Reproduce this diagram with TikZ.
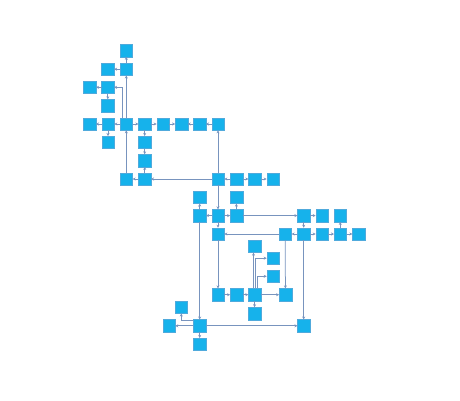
\documentclass[tikz,border=0pt]{standalone}
\usetikzlibrary{arrows.meta}
\definecolor{nodefill}{RGB}{22,178,235}
\definecolor{nodeline}{RGB}{80,170,220}
\definecolor{edgecol}{RGB}{120,148,190}
\tikzset{
  box/.style={draw=nodeline, fill=nodefill, line width=0.4pt, minimum size=12.6pt, inner sep=0pt, outer sep=0pt},
  edge/.style={draw=edgecol, line width=0.75pt, -{Stealth[length=3pt,width=3pt]}}
}
\begin{document}
\begin{tikzpicture}[x=1pt,y=-1pt]
\path[use as bounding box] (0,0) rectangle (460,400);
% nodes
\node[box] (A1) at (126.3,50.5) {};
\node[box] (A2) at (126.3,69.2) {};
\node[box] (A3) at (107.8,69.2) {};
\node[box] (A4) at (107.8,87.3) {};
\node[box] (A5) at (89.7,87.3) {};
\node[box] (A6) at (107.8,105.6) {};
\node[box] (B1) at (89.7,124) {};
\node[box] (B2) at (108,124) {};
\node[box] (B3) at (126.3,124) {};
\node[box] (B4) at (144.7,124) {};
\node[box] (B5) at (163,124) {};
\node[box] (B6) at (181.4,124) {};
\node[box] (B7) at (199.7,124) {};
\node[box] (B8) at (218,124) {};
\node[box] (C1) at (108,142.3) {};
\node[box] (C2) at (144.7,142.3) {};
\node[box] (C3) at (144.7,160.6) {};
\node[box] (D1) at (126.3,179) {};
\node[box] (D2) at (144.7,179) {};
\node[box] (D3) at (218,179) {};
\node[box] (D4) at (236.4,179) {};
\node[box] (D5) at (254.7,179) {};
\node[box] (D6) at (273,179) {};
\node[box] (E1) at (199.7,197.3) {};
\node[box] (E2) at (236.4,197.3) {};
\node[box] (F1) at (199.7,215.6) {};
\node[box] (F2) at (218,215.6) {};
\node[box] (F3) at (236.4,215.6) {};
\node[box] (F4) at (303.7,215.6) {};
\node[box] (F5) at (322,215.6) {};
\node[box] (F6) at (340.3,215.6) {};
\node[box] (G1) at (218,234) {};
\node[box] (G2) at (285.3,234) {};
\node[box] (G3) at (303.7,234) {};
\node[box] (G4) at (322,234) {};
\node[box] (G5) at (340.3,234) {};
\node[box] (G6) at (358.7,234) {};
\node[box] (H) at (254.6,246.3) {};
\node[box] (I) at (273,258.2) {};
\node[box] (J) at (273,276.3) {};
\node[box] (K1) at (218,294.7) {};
\node[box] (K2) at (236.4,294.7) {};
\node[box] (K3) at (254.6,294.7) {};
\node[box] (K4) at (285.4,294.7) {};
\node[box] (L) at (254.6,313.5) {};
\node[box] (M) at (181.3,307.2) {};
\node[box] (N1) at (169,325.8) {};
\node[box] (N2) at (199.7,325.8) {};
\node[box] (N3) at (303.7,325.8) {};
\node[box] (O) at (199.7,344.2) {};
% edges
\draw[edge] (A2) -- (A1);
\draw[edge] (A2) -- (A3);
\draw[edge] (A4) -- (A5);
\draw[edge] (A4) -- (A6);
\draw[edge] (B3) -- (A2);
\draw[edge] ([xshift=-4.4pt]B3.north) |- (A4.east);
\draw[edge] (B2) -- (B1);
\draw[edge] (B2) -- (C1);
\draw[edge] (B3) -- (B2);
\draw[edge] (B3) -- (B4);
\draw[edge] (B4) -- (B5);
\draw[edge] (B4) -- (C2);
\draw[edge] (B5) -- (B6);
\draw[edge] (B7) -- (B6);
\draw[edge] (B8) -- (B7);
\draw[edge] (D3) -- (B8);
\draw[edge] (C2) -- (C3);
\draw[edge] (D2) -- (C3);
\draw[edge] (D2) -- (D1);
\draw[edge] (D1) -- (B3);
\draw[edge] (D3) -- (D2);
\draw[edge] (D4) -- (D3);
\draw[edge] (D4) -- (D5);
\draw[edge] (D5) -- (D6);
\draw[edge] (D3) -- (F2);
\draw[edge] (F2) -- (F1);
\draw[edge] (F2) -- (F3);
\draw[edge] (F1) -- (E1);
\draw[edge] (F3) -- (E2);
\draw[edge] (F2) -- (G1);
\draw[edge] (F3) -- (F4);
\draw[edge] (F4) -- (F5);
\draw[edge] (F4) -- (G3);
\draw[edge] (G3) -- (G2);
\draw[edge] (G2) -- (G1);
\draw[edge] (G3) -- (G4);
\draw[edge] (G4) -- (G5);
\draw[edge] (G5) -- (G6);
\draw[edge] (G5) -- (F6);
\draw[edge] (G1) -- (K1);
\draw[edge] (K1) -- (K2);
\draw[edge] (K2) -- (K3);
\draw[edge] ([xshift=-1.1pt]K3.north) -- ([xshift=-1.1pt]H.south);
\draw[edge] ([xshift=0.9pt]K3.north) |- (I.west);
\draw[edge] ([xshift=2.7pt]K3.north) |- (J.west);
\draw[edge] (K3) -- (K4);
\draw[edge] (K3) -- (L);
\draw[edge] (G2) -- (K4);
\draw[edge] (F1) -- (N2);
\draw[edge] (N2) -- (N1);
\draw[edge] ([yshift=5pt]N2.west) -| (M.south);
\draw[edge] (N2) -- (O);
\draw[edge] (N2) -- (N3);
\draw[edge] (G3) -- (N3);
\end{tikzpicture}
\end{document}
